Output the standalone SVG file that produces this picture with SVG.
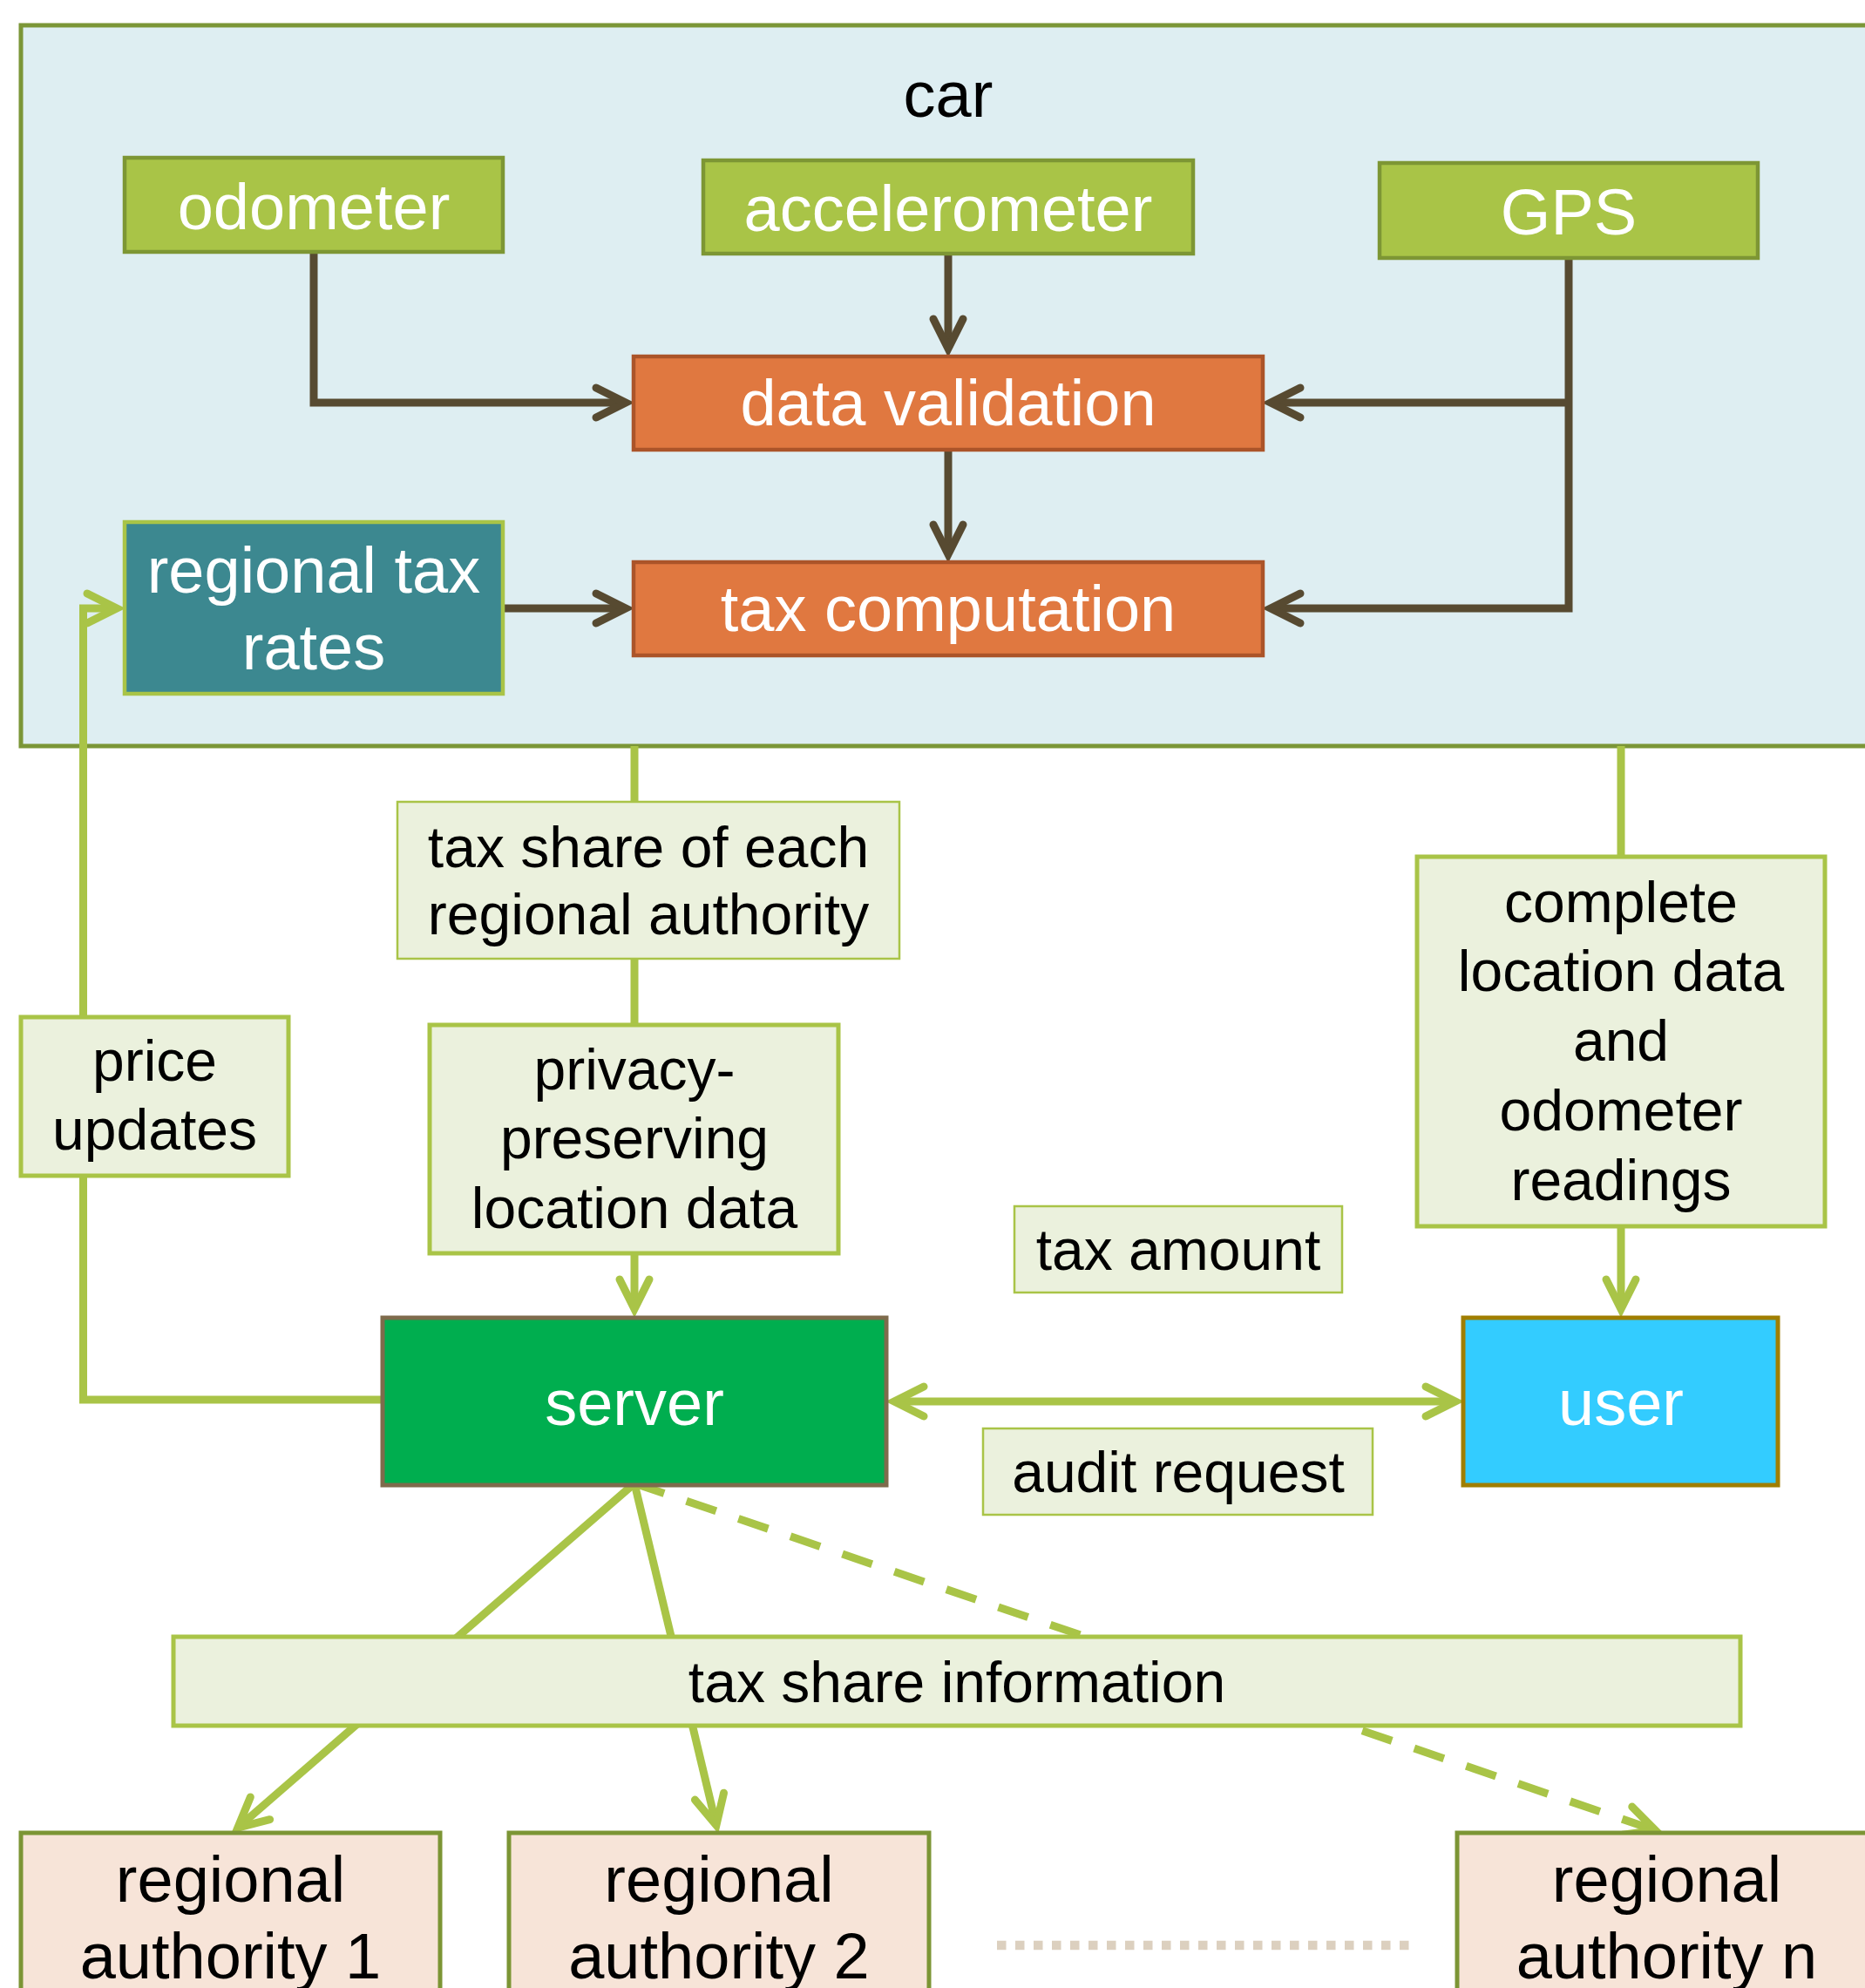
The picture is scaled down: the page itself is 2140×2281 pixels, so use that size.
<svg xmlns="http://www.w3.org/2000/svg" width="2140" height="2281" viewBox="0 0 2140 2281">
<style>
text{font-family:"Liberation Sans",Arial,sans-serif;text-anchor:middle}
.nt{font-size:74px;fill:#FFFFFF}
.lt{font-size:66px;fill:#000000}
.sensor{fill:#A9C447;stroke:#7D9634;stroke-width:4.5}
.proc{fill:#E07840;stroke:#AB5429;stroke-width:4.5}
.lbl{fill:#EBF1DD;stroke:#A9C447;stroke-width:2.5}
.lblb{fill:#EBF1DD;stroke:#A9C447;stroke-width:5}
.ra{fill:#F7E4D8;stroke:#7C9535;stroke-width:5}
.br{fill:none;stroke:#574A31;stroke-width:9}
.gr{fill:none;stroke:#A9C447;stroke-width:9}
</style>
<defs>
<marker id="ab" markerUnits="userSpaceOnUse" viewBox="-50 -30 60 60" markerWidth="60" markerHeight="60" refX="0" refY="0" orient="auto" overflow="visible">
<path d="M-34,-17 L0,0 L-34,17" fill="none" stroke="#574A31" stroke-width="9" stroke-linecap="round" stroke-linejoin="miter"/>
</marker>
<marker id="ag" markerUnits="userSpaceOnUse" viewBox="-50 -30 60 60" markerWidth="60" markerHeight="60" refX="0" refY="0" orient="auto-start-reverse" overflow="visible">
<path d="M-34,-17 L0,0 L-34,17" fill="none" stroke="#A9C447" stroke-width="9" stroke-linecap="round" stroke-linejoin="miter"/>
</marker>
</defs>
<rect x="0" y="0" width="2140" height="2281" fill="#FFFFFF"/>
<g id="car">
<rect x="24" y="29" width="2140" height="827" fill="#DEEEF2" stroke="#7B9637" stroke-width="5"/>
<text x="1088" y="134" style="font-size:74px;fill:#000000">car</text>
</g>
<g id="connectors">
<path class="br" d="M360,289 V462 H718" marker-end="url(#ab)"/>
<path class="br" d="M1088,291 V400" marker-end="url(#ab)"/>
<path class="br" d="M1800,296 V698 H1458" marker-end="url(#ab)"/>
<path class="br" d="M1800,462 H1458" marker-end="url(#ab)"/>
<path class="br" d="M1088,516 V636" marker-end="url(#ab)"/>
<path class="br" d="M577,698 H718" marker-end="url(#ab)"/>
<path class="gr" d="M439,1606 H95.5 V698 H134" marker-end="url(#ag)"/>
<path class="gr" d="M728,856 V1502" marker-end="url(#ag)"/>
<path class="gr" d="M1860,856 V1502" marker-end="url(#ag)"/>
<path class="gr" d="M1026,1608 H1670" marker-start="url(#ag)" marker-end="url(#ag)"/>
<path class="gr" d="M728,1702 L272.8,2097.1" marker-end="url(#ag)"/>
<path class="gr" d="M728,1702 L821.9,2094.2" marker-end="url(#ag)"/>
<path class="gr" d="M728,1702 L1899.5,2100.1" stroke-dasharray="36 27" marker-end="url(#ag)"/>
<path d="M1144,2232 H1625" fill="none" stroke="#DCD0BF" stroke-width="10.5" stroke-dasharray="10.5 10.5"/>
</g>
<g id="odometer">
<rect class="sensor" x="143" y="181" width="434" height="108"/>
<text class="nt" x="360" y="263">odometer</text>
</g>
<g id="accelerometer">
<rect class="sensor" x="807" y="184" width="562" height="107"/>
<text class="nt" x="1088" y="265">accelerometer</text>
</g>
<g id="gps">
<rect class="sensor" x="1583" y="187" width="434" height="109"/>
<text class="nt" x="1800" y="269">GPS</text>
</g>
<g id="data-validation">
<rect class="proc" x="727" y="409" width="722" height="107"/>
<text class="nt" x="1088" y="488">data validation</text>
</g>
<g id="tax-computation">
<rect class="proc" x="727" y="645" width="722" height="107"/>
<text class="nt" x="1088" y="724">tax computation</text>
</g>
<g id="regional-tax-rates">
<rect x="143" y="599" width="434" height="197" fill="#3C8890" stroke="#A9C447" stroke-width="4.5"/>
<text class="nt" x="360" y="680">regional tax</text>
<text class="nt" x="360" y="768">rates</text>
</g>
<g id="label-tax-share-each">
<rect class="lbl" x="456" y="920" width="576" height="180"/>
<text class="lt" x="744" y="995">tax share of each</text>
<text class="lt" x="744" y="1072">regional authority</text>
</g>
<g id="label-price-updates">
<rect class="lblb" x="24" y="1167" width="307" height="182"/>
<text class="lt" x="177.5" y="1240">price</text>
<text class="lt" x="177.5" y="1319">updates</text>
</g>
<g id="label-privacy">
<rect class="lblb" x="493" y="1176" width="469" height="262"/>
<text class="lt" x="728" y="1250">privacy-</text>
<text class="lt" x="728" y="1329">preserving</text>
<text class="lt" x="728" y="1409">location data</text>
</g>
<g id="label-complete">
<rect class="lblb" x="1626" y="983" width="468" height="424"/>
<text class="lt" x="1860" y="1058">complete</text>
<text class="lt" x="1860" y="1137">location data</text>
<text class="lt" x="1860" y="1217">and</text>
<text class="lt" x="1860" y="1297">odometer</text>
<text class="lt" x="1860" y="1377">readings</text>
</g>
<g id="label-tax-amount">
<rect class="lbl" x="1164" y="1384" width="376" height="99"/>
<text class="lt" x="1352" y="1457">tax amount</text>
</g>
<g id="label-audit-request">
<rect class="lbl" x="1128" y="1639" width="447" height="99"/>
<text class="lt" x="1352" y="1712">audit request</text>
</g>
<g id="server">
<rect x="439" y="1512" width="578" height="192" fill="#00AE4F" stroke="#7E6B4C" stroke-width="5"/>
<text class="nt" x="728" y="1635">server</text>
</g>
<g id="user">
<rect x="1679" y="1512" width="361" height="192" fill="#33CCFF" stroke="#A07E00" stroke-width="5"/>
<text class="nt" x="1860" y="1635">user</text>
</g>
<g id="label-tax-share-info">
<rect class="lblb" x="199" y="1878" width="1798" height="102"/>
<text class="lt" x="1098" y="1953">tax share information</text>
</g>
<g id="regional-authority-1">
<rect class="ra" x="24" y="2103" width="481" height="220"/>
<text class="lt" x="264.5" y="2182" style="font-size:74px">regional</text>
<text class="lt" x="264.5" y="2270" style="font-size:74px">authority 1</text>
</g>
<g id="regional-authority-2">
<rect class="ra" x="584" y="2103" width="482" height="220"/>
<text class="lt" x="825" y="2182" style="font-size:74px">regional</text>
<text class="lt" x="825" y="2270" style="font-size:74px">authority 2</text>
</g>
<g id="regional-authority-n">
<rect class="ra" x="1672" y="2103" width="481" height="220"/>
<text class="lt" x="1912.5" y="2182" style="font-size:74px">regional</text>
<text class="lt" x="1912.5" y="2270" style="font-size:74px">authority n</text>
</g>
</svg>
